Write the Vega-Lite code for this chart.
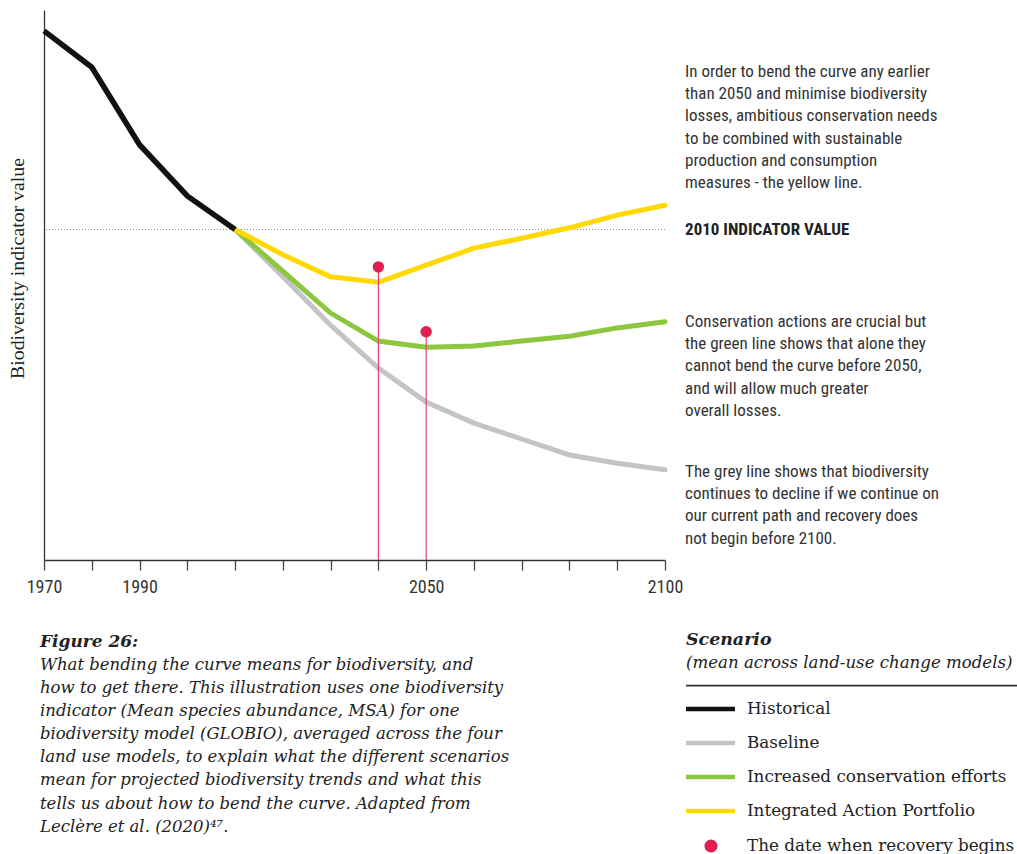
{
  "$schema": "https://vega.github.io/schema/vega-lite/v6.json",
  "width": 621,
  "height": 550,
  "autosize": {"type": "none"},
  "padding": {"left": 44, "top": 10, "right": 352, "bottom": 294},
  "background": "white",
  "config": {"view": {"stroke": null}},
  "datasets": {
    "lines": [
      {"scenario": "Historical", "year": 1970, "value": 96.2},
      {"scenario": "Historical", "year": 1980, "value": 89.6},
      {"scenario": "Historical", "year": 1990, "value": 75.5},
      {"scenario": "Historical", "year": 2000, "value": 66.2},
      {"scenario": "Historical", "year": 2010, "value": 60.1},
      {"scenario": "Baseline", "year": 2010, "value": 60.1},
      {"scenario": "Baseline", "year": 2020, "value": 51.5},
      {"scenario": "Baseline", "year": 2030, "value": 42.7},
      {"scenario": "Baseline", "year": 2040, "value": 34.9},
      {"scenario": "Baseline", "year": 2050, "value": 28.7},
      {"scenario": "Baseline", "year": 2060, "value": 24.9},
      {"scenario": "Baseline", "year": 2070, "value": 22.0},
      {"scenario": "Baseline", "year": 2080, "value": 19.1},
      {"scenario": "Baseline", "year": 2090, "value": 17.6},
      {"scenario": "Baseline", "year": 2100, "value": 16.4},
      {"scenario": "Increased conservation efforts", "year": 2010, "value": 60.1},
      {"scenario": "Increased conservation efforts", "year": 2020, "value": 52.5},
      {"scenario": "Increased conservation efforts", "year": 2030, "value": 44.9},
      {"scenario": "Increased conservation efforts", "year": 2040, "value": 39.8},
      {"scenario": "Increased conservation efforts", "year": 2050, "value": 38.7},
      {"scenario": "Increased conservation efforts", "year": 2060, "value": 38.9},
      {"scenario": "Increased conservation efforts", "year": 2070, "value": 39.8},
      {"scenario": "Increased conservation efforts", "year": 2080, "value": 40.7},
      {"scenario": "Increased conservation efforts", "year": 2090, "value": 42.2},
      {"scenario": "Increased conservation efforts", "year": 2100, "value": 43.3},
      {"scenario": "Integrated Action Portfolio", "year": 2010, "value": 60.1},
      {"scenario": "Integrated Action Portfolio", "year": 2020, "value": 55.5},
      {"scenario": "Integrated Action Portfolio", "year": 2030, "value": 51.5},
      {"scenario": "Integrated Action Portfolio", "year": 2040, "value": 50.5},
      {"scenario": "Integrated Action Portfolio", "year": 2050, "value": 53.6},
      {"scenario": "Integrated Action Portfolio", "year": 2060, "value": 56.7},
      {"scenario": "Integrated Action Portfolio", "year": 2070, "value": 58.5},
      {"scenario": "Integrated Action Portfolio", "year": 2080, "value": 60.4},
      {"scenario": "Integrated Action Portfolio", "year": 2090, "value": 62.7},
      {"scenario": "Integrated Action Portfolio", "year": 2100, "value": 64.5}
    ],
    "dots": [
      {"scenario": "Integrated Action Portfolio", "year": 2040, "value": 53.3},
      {"scenario": "Increased conservation efforts", "year": 2050, "value": 41.5}
    ],
    "notes": [
      {"year": 2104.2, "value": 88.73, "text": ["In order to bend the curve any earlier", "than 2050 and minimise biodiversity", "losses, ambitious conservation needs", "to be combined with sustainable", "production and consumption", "measures - the yellow line."]},
      {"year": 2104.2, "value": 43.27, "text": ["Conservation actions are crucial but", "the green line shows that alone they", "cannot bend the curve before 2050,", "and will allow much greater", "overall losses."]},
      {"year": 2104.2, "value": 16.0, "text": ["The grey line shows that biodiversity", "continues to decline if we continue on", "our current path and recovery does", "not begin before 2100."]}
    ],
    "headline": [
      {"year": 2104.2, "value": 60.0, "text": "2010 INDICATOR VALUE"}
    ],
    "caption": [
      {"kind": "title", "year": 1969.16, "value": -14.91, "text": "Figure 26:"},
      {"kind": "body", "year": 1969.16, "value": -19.09, "text": ["What bending the curve means for biodiversity, and", "how to get there. This illustration uses one biodiversity", "indicator (Mean species abundance, MSA) for one", "biodiversity model (GLOBIO), averaged across the four", "land use models, to explain what the different scenarios", "mean for projected biodiversity trends and what this", "tells us about how to bend the curve. Adapted from", "Leclère et al. (2020)⁴⁷."]}
    ],
    "legendHead": [
      {"kind": "title", "year": 2104.4, "value": -14.55, "text": "Scenario"},
      {"kind": "subtitle", "year": 2104.4, "value": -18.78, "text": "(mean across land-use change models)"}
    ],
    "legendRule": [
      {"year": 2104.4, "year2": 2173.7, "value": -22.85}
    ],
    "legendItems": [
      {"scenario": "Historical", "year": 2104.4, "year2": 2114.65, "value": -27.09},
      {"scenario": "Baseline", "year": 2104.4, "year2": 2114.65, "value": -33.27},
      {"scenario": "Increased conservation efforts", "year": 2104.4, "year2": 2114.65, "value": -39.45},
      {"scenario": "Integrated Action Portfolio", "year": 2104.4, "year2": 2114.65, "value": -45.64}
    ],
    "legendDot": [
      {"label": "The date when recovery begins", "year": 2109.63, "value": -52.0}
    ]
  },
  "encoding": {
    "x": {
      "field": "year",
      "type": "quantitative",
      "scale": {"domain": [1970, 2100], "nice": false, "zero": false},
      "axis": {
        "values": [1970, 1980, 1990, 2000, 2010, 2020, 2030, 2040, 2050, 2060, 2070, 2080, 2090, 2100],
        "format": "d",
        "labelExpr": "indexof([1970, 1990, 2050, 2100], datum.value) >= 0 ? datum.label : ''",
        "title": null,
        "grid": false,
        "domainColor": "#333333",
        "domainWidth": 1.3,
        "tickColor": "#444444",
        "tickWidth": 1.3,
        "tickSize": 10,
        "labelPadding": 8,
        "labelFont": "Liberation Sans Narrow, Arial Narrow, Roboto Condensed, DejaVu Sans Condensed, sans-serif",
        "labelFontSize": 18,
        "labelColor": "#333333",
        "labelOverlap": false,
        "labelFlush": false
      }
    },
    "y": {
      "field": "value",
      "type": "quantitative",
      "scale": {"domain": [0, 100], "nice": false, "zero": false},
      "axis": {
        "title": "Biodiversity indicator value",
        "grid": false,
        "ticks": false,
        "labels": false,
        "domainColor": "#333333",
        "domainWidth": 1.3,
        "titleFont": "Liberation Serif, Times New Roman, serif",
        "titleFontSize": 19.8,
        "titleFontWeight": "normal",
        "titleColor": "#222222",
        "titleAngle": -90,
        "titleX": -27,
        "titleY": 258,
        "titleAlign": "center",
        "titleBaseline": "middle"
      }
    }
  },
  "layer": [
    {
      "data": {"name": "lines"},
      "transform": [{"filter": "datum.scenario == 'Historical' && datum.year == 2010"}],
      "mark": {"type": "rule", "color": "#8a8a8a", "strokeWidth": 1, "strokeDash": [1, 2]},
      "encoding": {"x": null}
    },
    {
      "data": {"name": "lines"},
      "transform": [{"filter": "datum.scenario == 'Baseline'"}],
      "mark": {"type": "line", "strokeWidth": 5, "strokeCap": "round"},
      "encoding": {"color": {"field": "scenario", "type": "nominal", "scale": {"domain": ["Historical", "Baseline", "Increased conservation efforts", "Integrated Action Portfolio"], "range": ["#111111", "#c4c3c5", "#8dc63f", "#ffd900"]}, "legend": null}}
    },
    {
      "data": {"name": "lines"},
      "transform": [{"filter": "datum.scenario == 'Increased conservation efforts'"}],
      "mark": {"type": "line", "strokeWidth": 5, "strokeCap": "round"},
      "encoding": {"color": {"field": "scenario", "type": "nominal", "legend": null}}
    },
    {
      "data": {"name": "lines"},
      "transform": [{"filter": "datum.scenario == 'Integrated Action Portfolio'"}],
      "mark": {"type": "line", "strokeWidth": 5, "strokeCap": "round"},
      "encoding": {"color": {"field": "scenario", "type": "nominal", "legend": null}}
    },
    {
      "data": {"name": "lines"},
      "transform": [{"filter": "datum.scenario == 'Historical'"}],
      "mark": {"type": "line", "strokeWidth": 5.5, "strokeCap": "butt"},
      "encoding": {"color": {"field": "scenario", "type": "nominal", "legend": null}}
    },
    {
      "data": {"name": "dots"},
      "mark": {"type": "rule", "color": "#e8406c", "strokeWidth": 1.2},
      "encoding": {"y2": {"datum": 0}}
    },
    {
      "data": {"name": "dots"},
      "mark": {"type": "point", "filled": true, "shape": "circle", "size": 130, "color": "#e01e50", "opacity": 1},
      "encoding": {}
    },
    {
      "data": {"name": "notes"},
      "mark": {"type": "text", "align": "left", "baseline": "middle", "lineHeight": 22.2, "font": "Liberation Sans Narrow, Arial Narrow, Roboto Condensed, DejaVu Sans Condensed, sans-serif", "fontSize": 17, "color": "#333333"},
      "encoding": {"text": {"field": "text"}}
    },
    {
      "data": {"name": "headline"},
      "mark": {"type": "text", "align": "left", "baseline": "middle", "font": "Liberation Sans Narrow, Arial Narrow, Roboto Condensed, DejaVu Sans Condensed, sans-serif", "fontSize": 17, "fontWeight": "bold", "color": "#222222"},
      "encoding": {"text": {"field": "text"}}
    },
    {
      "data": {"name": "caption"},
      "transform": [{"filter": "datum.kind == 'title'"}],
      "mark": {"type": "text", "align": "left", "baseline": "middle", "font": "DejaVu Serif, serif", "fontSize": 17, "fontStyle": "italic", "fontWeight": "bold", "color": "#222222"},
      "encoding": {"text": {"field": "text"}}
    },
    {
      "data": {"name": "caption"},
      "transform": [{"filter": "datum.kind == 'body'"}],
      "mark": {"type": "text", "align": "left", "baseline": "middle", "lineHeight": 23.1, "font": "DejaVu Serif, serif", "fontSize": 16.5, "fontStyle": "italic", "color": "#222222"},
      "encoding": {"text": {"field": "text"}}
    },
    {
      "data": {"name": "legendHead"},
      "transform": [{"filter": "datum.kind == 'title'"}],
      "mark": {"type": "text", "align": "left", "baseline": "middle", "font": "DejaVu Serif, serif", "fontSize": 17.4, "fontStyle": "italic", "fontWeight": "bold", "color": "#222222"},
      "encoding": {"text": {"field": "text"}}
    },
    {
      "data": {"name": "legendHead"},
      "transform": [{"filter": "datum.kind == 'subtitle'"}],
      "mark": {"type": "text", "align": "left", "baseline": "middle", "font": "DejaVu Serif, serif", "fontSize": 16.6, "fontStyle": "italic", "color": "#222222"},
      "encoding": {"text": {"field": "text"}}
    },
    {
      "data": {"name": "legendRule"},
      "mark": {"type": "rule", "color": "#333333", "strokeWidth": 1.8},
      "encoding": {"x2": {"field": "year2"}}
    },
    {
      "data": {"name": "legendItems"},
      "mark": {"type": "rule", "strokeWidth": 4.5},
      "encoding": {"x2": {"field": "year2"}, "color": {"field": "scenario", "type": "nominal", "legend": null}}
    },
    {
      "data": {"name": "legendItems"},
      "mark": {"type": "text", "align": "left", "baseline": "middle", "font": "DejaVu Serif, serif", "fontSize": 16.8, "color": "#222222"},
      "encoding": {"x": {"datum": 2117.16}, "text": {"field": "scenario"}}
    },
    {
      "data": {"name": "legendDot"},
      "mark": {"type": "point", "filled": true, "shape": "circle", "size": 170, "color": "#e01e50", "opacity": 1},
      "encoding": {}
    },
    {
      "data": {"name": "legendDot"},
      "mark": {"type": "text", "align": "left", "baseline": "middle", "font": "DejaVu Serif, serif", "fontSize": 16.8, "color": "#222222"},
      "encoding": {"x": {"datum": 2117.16}, "text": {"field": "label"}}
    }
  ]
}
